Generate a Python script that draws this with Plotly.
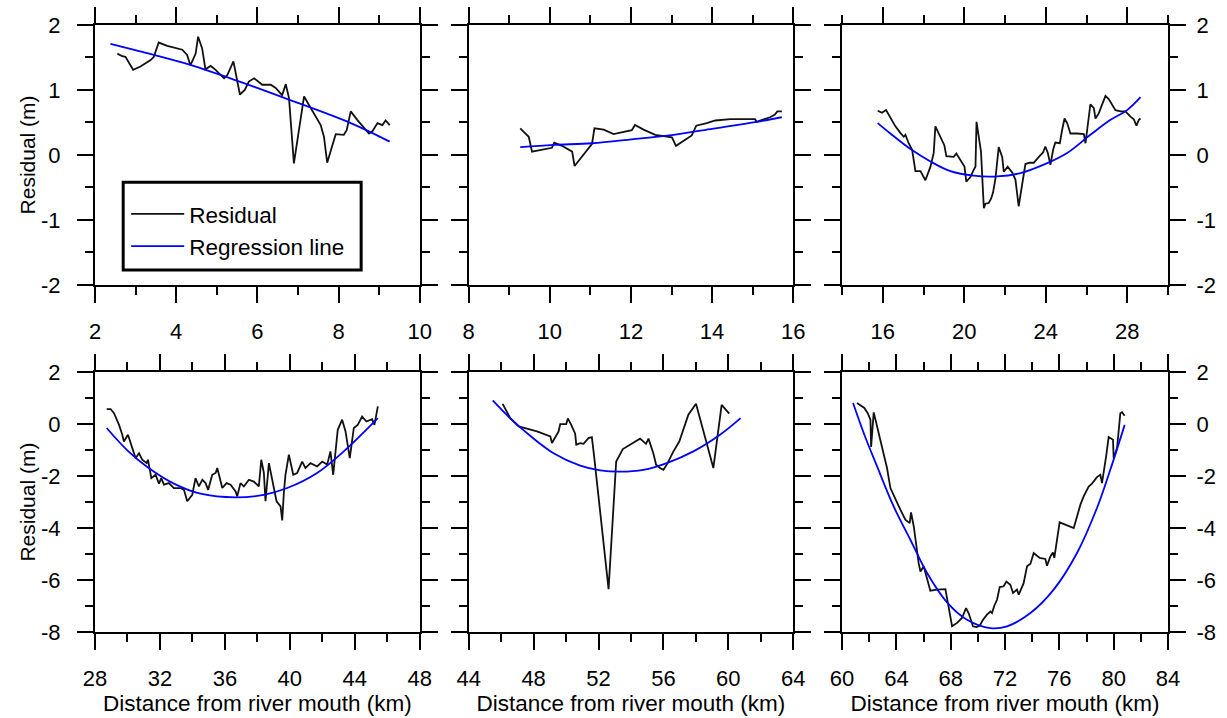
import plotly.graph_objects as go

# ---------------- data ----------------
# Panel 1 (top-left)
x1_res = [2.55,2.67,2.75,2.94,3.12,3.37,3.45,3.57,3.78,4.15,4.27,4.35,4.48,4.54,4.64,4.72,4.85,4.97,5.18,5.26,
          5.41,5.51,5.57,5.69,5.79,5.92,6.12,6.33,6.45,6.61,6.70,6.78,6.90,7.15,7.35,7.56,7.64,7.72,7.93,8.13,
          8.20,8.30,8.46,8.75,8.83,8.96,9.08,9.16,9.26]
y1_res = [1.56,1.52,1.51,1.31,1.36,1.46,1.51,1.73,1.68,1.62,1.54,1.38,1.56,1.82,1.64,1.32,1.37,1.31,1.18,1.23,
          1.44,1.15,0.93,1.00,1.13,1.18,1.08,1.08,1.03,0.92,1.09,0.87,-0.13,0.90,0.69,0.46,0.28,-0.12,0.32,0.31,
          0.38,0.67,0.54,0.33,0.36,0.49,0.46,0.53,0.46]
x1_reg = [2.38,3.45,4.35,5.51,6.74,8.30,9.26]
y1_reg = [1.71,1.54,1.385,1.14,0.86,0.49,0.205]

# Panel 2 (top-middle)
x2_res = [9.27,9.48,9.56,9.77,10.05,10.11,10.30,10.55,10.61,11.04,11.10,11.33,11.57,12.02,12.10,12.31,12.60,13.01,
          13.11,13.50,13.61,13.87,14.08,14.45,15.06,15.10,15.43,15.55,15.61,15.72]
y2_res = [0.41,0.28,0.05,0.08,0.11,0.19,0.14,0.05,-0.17,0.17,0.41,0.39,0.32,0.38,0.46,0.39,0.31,0.27,
          0.14,0.30,0.45,0.49,0.53,0.55,0.55,0.51,0.58,0.62,0.67,0.67]
x2_reg = [9.27,10.09,11.04,12.02,13.05,14.03,15.10,15.72]
y2_reg = [0.12,0.155,0.18,0.24,0.31,0.405,0.51,0.58]

# Panel 3 (top-right)
x3_res = [15.75,15.96,16.16,16.37,16.62,16.86,17.03,17.11,17.27,17.44,17.52,17.60,17.85,18.09,18.34,18.50,18.58,18.83,19.02,19.12,
          19.32,19.48,19.61,19.84,20.01,20.10,20.30,20.46,20.55,20.60,20.82,20.96,21.04,21.20,21.32,21.41,21.53,21.69,21.86,21.94,
          22.13,22.35,22.51,22.67,22.84,23.00,23.21,23.41,23.66,23.87,23.98,24.10,24.23,24.36,24.47,24.69,24.80,24.92,25.05,25.21,
          25.54,25.87,25.95,26.06,26.19,26.36,26.44,26.60,26.77,26.93,27.09,27.26,27.42,27.67,27.91,28.16,28.32,28.45,28.57,28.65]
y3_res = [0.68,0.65,0.69,0.58,0.44,0.34,0.28,0.31,0.18,0.08,-0.08,-0.25,-0.25,-0.39,-0.18,0.03,0.44,0.28,0.15,-0.02,
          -0.03,-0.03,0.02,-0.10,-0.18,-0.41,-0.34,-0.23,-0.18,0.51,0.05,-0.82,-0.75,-0.74,-0.67,-0.58,-0.36,0.12,-0.03,-0.26,
          -0.18,-0.27,-0.38,-0.79,-0.44,-0.14,-0.12,-0.12,-0.03,0.04,0.13,0.03,-0.15,0.08,0.19,0.18,0.38,0.56,0.49,0.33,
          0.33,0.32,0.18,0.49,0.78,0.72,0.56,0.64,0.77,0.91,0.86,0.77,0.69,0.67,0.67,0.59,0.55,0.45,0.54,0.56]
x3_reg = [15.75,16.37,17.36,18.34,19.32,20.46,21.61,22.76,23.90,25.05,26.19,27.18,27.99,28.65]
y3_reg = [0.49,0.33,0.09,-0.10,-0.25,-0.32,-0.33,-0.28,-0.15,0.03,0.31,0.54,0.69,0.89]

# Panel 4 (bottom-left)
x4_res = [28.72,28.96,29.17,29.48,29.68,29.78,30.03,30.30,30.50,30.71,30.91,31.18,31.26,31.47,31.73,31.94,32.08,32.25,32.55,32.86,
          33.27,33.48,33.68,33.99,34.19,34.40,34.61,34.81,34.97,35.22,35.43,35.53,35.84,36.10,36.35,36.66,36.76,36.96,37.17,37.48,
          37.78,38.09,38.24,38.40,38.50,38.71,38.97,39.18,39.43,39.53,39.63,39.73,39.94,40.21,40.45,40.76,40.96,41.27,41.68,41.99,
          42.30,42.50,42.67,42.81,42.95,43.22,43.43,43.69,43.94,44.18,44.45,44.72,45.07,45.21,45.37,45.42]
y4_res = [0.58,0.58,0.42,-0.03,-0.41,-0.67,-0.41,-0.92,-1.31,-1.12,-1.37,-1.50,-1.37,-2.08,-1.95,-2.29,-2.08,-2.33,-2.27,-2.46,
          -2.46,-2.53,-2.97,-2.72,-2.08,-2.40,-2.14,-2.27,-2.53,-1.95,-1.88,-1.69,-2.46,-2.27,-2.33,-2.59,-2.78,-2.27,-2.40,-2.14,
          -2.21,-2.40,-1.37,-1.88,-2.97,-1.50,-2.27,-2.97,-3.17,-3.71,-2.65,-1.95,-1.18,-1.95,-1.88,-1.44,-1.69,-1.50,-1.63,-1.44,
          -1.56,-1.05,-1.95,-1.12,-0.22,0.17,-0.28,-1.31,-0.15,-0.03,0.29,0.10,0.19,-0.03,0.62,0.68]
x4_reg = [28.72,29.99,31.22,32.86,34.50,36.66,38.40,39.84,41.68,43.32,45.42]
y4_reg = [-0.15,-1.01,-1.65,-2.29,-2.68,-2.82,-2.72,-2.46,-1.88,-1.05,0.23]

# Panel 5 (bottom-middle)
x5_res = [46.09,46.56,47.08,48.21,49.03,49.13,49.54,49.64,50.01,50.11,50.32,50.56,50.63,50.87,51.08,51.38,51.59,51.73,52.62,52.92,
          53.09,53.50,54.05,54.56,54.93,55.08,55.38,55.55,55.79,56.00,56.21,56.62,56.98,57.54,58.01,58.46,59.08,59.59,60.06]
y5_res = [0.78,0.23,-0.09,-0.28,-0.47,-0.73,-0.28,0.00,0.00,0.22,-0.03,-0.37,-0.79,-0.73,-0.76,-0.54,-0.50,-1.24,-6.35,-3.49,
          -1.44,-0.96,-0.76,-0.56,-0.76,-0.56,-1.12,-1.56,-1.69,-1.76,-1.56,-1.05,-0.67,0.36,0.78,-0.28,-1.69,0.74,0.40]
x5_reg = [45.48,46.61,47.79,49.23,50.87,52.10,53.33,54.77,56.21,57.85,59.49,60.76]
y5_reg = [0.91,0.19,-0.45,-1.12,-1.60,-1.78,-1.83,-1.76,-1.50,-1.05,-0.41,0.23]

# Panel 6 (bottom-right)
x6_res = [61.10,61.35,61.64,61.89,62.09,62.14,62.33,62.58,62.94,63.31,63.56,63.93,64.29,64.66,64.98,65.08,65.28,65.64,65.77,66.01,
          66.26,66.50,66.99,67.61,68.10,68.47,68.83,69.13,69.33,69.64,69.89,70.13,70.38,70.67,70.92,71.04,71.21,71.41,71.61,71.90,
          72.10,72.39,72.59,72.88,73.01,73.37,73.62,73.87,74.11,74.55,74.97,75.09,75.34,75.53,75.63,75.71,76.02,77.06,77.55,77.79,
          78.16,78.40,78.77,79.02,79.14,79.46,79.63,79.95,80.00,80.25,80.49,80.61,80.81]
y6_res = [0.81,0.71,0.62,0.42,0.17,-0.88,0.45,-0.09,-0.92,-1.69,-2.46,-2.91,-3.29,-3.68,-3.81,-3.40,-3.94,-5.35,-5.67,-5.47,
          -5.99,-6.41,-6.37,-6.35,-7.78,-7.65,-7.46,-7.08,-7.29,-7.78,-7.81,-7.76,-7.53,-7.33,-7.21,-7.27,-6.99,-6.76,-6.27,-6.24,
          -6.06,-6.18,-6.50,-6.37,-6.56,-6.12,-5.47,-5.37,-4.96,-5.15,-5.19,-5.45,-5.09,-4.94,-5.15,-4.90,-3.78,-4.00,-3.10,-2.78,
          -2.40,-2.29,-2.04,-1.95,-2.27,-1.18,-0.50,-0.60,-1.31,-0.92,0.42,0.46,0.32]
x6_reg = [60.81,61.60,62.58,63.80,65.03,66.26,67.73,69.20,70.92,72.15,73.87,75.58,77.30,78.77,79.75,80.81]
y6_reg = [0.81,-0.35,-1.63,-3.17,-4.45,-5.73,-6.86,-7.53,-7.85,-7.78,-7.27,-6.37,-4.96,-3.23,-1.76,-0.03]

x_ranges = [[2, 10], [8, 16], [14, 30], [28, 48], [44, 64], [60, 84]]
x_major = [2, 2, 4, 4, 4, 4]
x_minor = [1, 1, 2, 2, 2, 2]

y_ticks_top = [-2, -1, 0, 1, 2]
y_labels_top = ["-2", "-1", "0", "1", "2"]
y_ticks_bot = [-8, -6, -4, -2, 0, 2]
y_labels_bot = ["-8", "-6", "-4", "-2", "0", "2"]

series_names = ["Residual", "Regression line"]
y_title = "Residual (m)"
x_title = "Distance from river mouth (km)"

# ---------------- figure ----------------
FONT = "Liberation Sans, Arial, Helvetica, sans-serif"
RES_COLOR = "#111111"
REG_COLOR = "#0000ff"

panels = [
    (x1_res, y1_res, x1_reg, y1_reg),
    (x2_res, y2_res, x2_reg, y2_reg),
    (x3_res, y3_res, x3_reg, y3_reg),
    (x4_res, y4_res, x4_reg, y4_reg),
    (x5_res, y5_res, x5_reg, y5_reg),
    (x6_res, y6_res, x6_reg, y6_reg),
]

fig = go.Figure()
for i, (xr, yr, xg, yg) in enumerate(panels):
    sfx = "" if i == 0 else str(i + 1)
    fig.add_trace(go.Scatter(x=xr, y=yr, mode="lines", name=series_names[0],
                             line=dict(color=RES_COLOR, width=1.8),
                             xaxis="x" + sfx, yaxis="y" + sfx, showlegend=(i == 0)))
    fig.add_trace(go.Scatter(x=xg, y=yg, mode="lines", name=series_names[1],
                             line=dict(color=REG_COLOR, width=1.8, shape="spline", smoothing=1.0),
                             xaxis="x" + sfx, yaxis="y" + sfx, showlegend=(i == 0)))

# geometry (pixel-based, in a 1227x718 page)
W, H = 1227, 718
ML, MR, MT, MB = 94.5, 59.3, 25, 85.7
PW, PH = W - ML - MR, H - MT - MB
col_px = [(94.5, 419.3), (468.3, 792.8), (841.7, 1167.7)]
row_px = [(25, 285), (372.3, 632.3)]
col_dom = [[(a - ML) / PW, (b - ML) / PW] for a, b in col_px]
row_dom = [[1 - (b - MT) / PH, 1 - (a - MT) / PH] for a, b in row_px]

def px_x(p):
    return (p - ML) / PW

def px_y(p):
    return 1 - (p - MT) / PH

common = dict(showline=True, linecolor="black", linewidth=2, mirror="ticks",
              ticks="outside", ticklen=16, tickwidth=2, tickcolor="black",
              showgrid=False, zeroline=False,
              tickfont=dict(family=FONT, size=22, color="black"))

layout = {}
for i in range(6):
    r, c = divmod(i, 3)
    sfx = "" if i == 0 else str(i + 1)
    xa = dict(common)
    xa.update(domain=col_dom[c], range=x_ranges[i], anchor="y" + sfx,
              tickmode="linear", tick0=0, dtick=x_major[i], ticklabelstandoff=10,
              minor=dict(ticks="outside", ticklen=8, tickwidth=2, tickcolor="black",
                         tickmode="linear", tick0=0, dtick=x_minor[i], showgrid=False))
    if r == 1:
        xa["title"] = dict(text=x_title, font=dict(family=FONT, size=22.5, color="black"), standoff=5)
    ya = dict(common)
    if r == 0:
        tv, tt, rng, mn = y_ticks_top, y_labels_top, [-2, 2], 0.5
    else:
        tv, tt, rng, mn = y_ticks_bot, y_labels_bot, [-8, 2], 1
    ya.update(domain=row_dom[r], range=rng, anchor="x" + sfx,
              tickmode="array", tickvals=tv, ticktext=tt,
              minor=dict(ticks="outside", ticklen=8, tickwidth=2, tickcolor="black",
                         tickmode="linear", tick0=0, dtick=mn, showgrid=False))
    if c == 0:
        ya["ticklabelstandoff"] = 12
        ya["title"] = dict(text=y_title, font=dict(family=FONT, size=21, color="black"), standoff=0)
    elif c == 1:
        ya["showticklabels"] = False
    else:
        ya["side"] = "right"
        ya["ticklabelstandoff"] = 6
    layout["xaxis" + sfx] = xa
    layout["yaxis" + sfx] = ya

fig.update_layout(**layout)

# legend frame (drawn as a box; the legend itself sits inside it)
fig.add_shape(type="rect", xref="paper", yref="paper",
              x0=px_x(122.7), x1=px_x(360.7), y0=px_y(270.0), y1=px_y(182.3),
              line=dict(color="black", width=3), fillcolor="white", layer="above")

fig.update_layout(
    width=W, height=H,
    margin=dict(l=ML, r=MR, t=MT, b=MB, autoexpand=False),
    paper_bgcolor="white", plot_bgcolor="white",
    font=dict(family=FONT, size=22, color="black"),
    showlegend=True,
    legend=dict(x=px_x(125.7), y=px_y(192.8), xanchor="left", yanchor="top",
                bgcolor="rgba(0,0,0,0)", borderwidth=0,
                font=dict(family=FONT, size=22.5, color="black"),
                itemwidth=53, tracegroupgap=0),
)

fig.write_html("out.html", config={"displayModeBar": False},
               post_script="document.body.style.margin='0';document.body.style.padding='0';")
